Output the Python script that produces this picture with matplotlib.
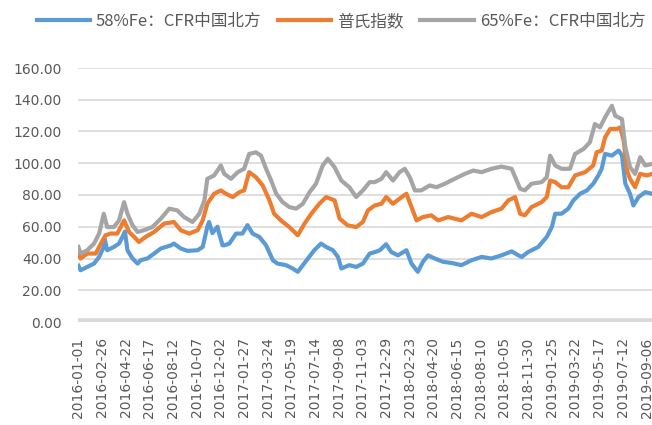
import pandas as pd
import matplotlib.pyplot as plt

plt.rcParams['font.family'] = ['Noto Sans CJK SC', 'DejaVu Sans']

# --- Data (day offset from 2016-01-01, price in USD/t) ---
start = pd.Timestamp("2016-01-01")

fe58_days = [0, 5, 21, 37, 49, 60, 62, 68, 84, 96, 106, 110, 116, 128, 140, 147, 163, 179, 195,
             219, 226, 242, 258, 282, 294, 305, 309, 317, 329, 333, 341, 345, 357, 373, 388, 400,
             412, 428, 444, 460, 471, 491, 507, 519, 531, 543, 558, 574, 586, 602, 614, 622, 641,
             657, 673, 689, 701, 713, 728, 740, 756, 776, 788, 803, 815, 827, 843, 863, 883, 906,
             930, 954, 977, 1001, 1025, 1041, 1049, 1064, 1088, 1108, 1120, 1128, 1143, 1159,
             1171, 1187, 1203, 1218, 1230, 1238, 1246, 1262, 1278, 1286, 1294, 1305, 1313, 1325,
             1341, 1357]
fe58_vals = [35.5, 32.6, 34.7, 36.8, 41.0, 47.3, 52.5, 45.2, 47.3, 49.4, 54.6, 57.0, 45.2, 40.0,
             36.8, 38.9, 40.0, 43.1, 46.3, 48.3, 49.4, 46.3, 44.8, 45.2, 47.3, 60.0, 63.0, 56.0,
             60.0, 55.7, 48.3, 48.3, 49.4, 55.7, 55.7, 61.0, 55.7, 53.6, 48.3, 38.9, 36.8, 35.8,
             33.7, 31.6, 35.8, 40.0, 45.2, 49.4, 47.3, 45.2, 41.0, 33.7, 35.8, 34.7, 36.8, 43.1,
             44.0, 45.2, 49.0, 44.1, 42.0, 45.2, 36.8, 31.6, 37.9, 42.0, 40.0, 37.9, 37.2, 35.8,
             38.9, 41.0, 40.0, 42.0, 44.5, 42.0, 41.0, 44.1, 47.3, 53.6, 59.8, 68.2, 68.2, 71.4,
             76.6, 80.8, 82.9, 87.1, 92.3, 96.5, 105.9, 104.8, 108.0, 104.8, 87.1, 80.8, 73.4,
             78.7, 81.8, 80.8]

platts_days = [0, 5, 21, 41, 53, 64, 76, 92, 108, 120, 132, 143, 159, 179, 203, 226, 242, 262,
               282, 294, 305, 321, 337, 349, 365, 381, 392, 404, 420, 436, 452, 463, 479, 499,
               519, 535, 551, 570, 586, 606, 618, 637, 657, 673, 685, 701, 717, 728, 744, 760,
               776, 788, 800, 815, 835, 851, 875, 906, 930, 954, 977, 1001, 1017, 1033, 1045,
               1056, 1072, 1096, 1108, 1116, 1128, 1143, 1159, 1175, 1199, 1218, 1226, 1238,
               1246, 1258, 1274, 1282, 1290, 1298, 1305, 1317, 1329, 1345, 1357]
platts_vals = [43.1, 40.0, 43.1, 43.1, 49.4, 54.6, 55.7, 55.7, 64.0, 56.7, 53.6, 50.4, 53.6,
               56.7, 62.0, 63.0, 57.8, 55.7, 57.8, 64.0, 74.5, 80.8, 82.9, 80.8, 78.7, 81.8,
               82.9, 94.4, 91.2, 86.0, 76.6, 68.2, 64.0, 59.8, 54.6, 62.0, 68.2, 74.5, 78.7,
               76.6, 65.1, 60.9, 59.8, 63.0, 70.3, 73.4, 74.5, 78.7, 74.5, 77.7, 80.8, 72.4,
               64.0, 66.1, 67.2, 64.0, 66.1, 64.0, 68.2, 66.1, 69.2, 71.4, 76.6, 78.7, 68.2,
               67.2, 72.4, 75.5, 78.7, 89.1, 88.1, 84.9, 84.9, 92.3, 94.4, 98.6, 106.9, 108.0,
               116.3, 121.6, 121.6, 122.6, 114.2, 95.4, 90.2, 84.9, 93.3, 92.3, 93.3]

fe65_days = [0, 5, 21, 37, 49, 60, 68, 84, 96, 108, 116, 128, 140, 155, 175, 195, 215, 234,
             250, 270, 286, 298, 305, 321, 337, 345, 361, 377, 392, 404, 420, 432, 444, 456,
             468, 483, 499, 515, 531, 547, 562, 578, 590, 606, 622, 641, 657, 673, 689, 701,
             717, 728, 744, 760, 772, 784, 796, 811, 831, 847, 867, 890, 914, 934, 954, 977,
             1001, 1025, 1045, 1056, 1072, 1096, 1108, 1116, 1128, 1143, 1163, 1175, 1195,
             1210, 1222, 1234, 1246, 1262, 1270, 1286, 1294, 1305, 1317, 1329, 1341, 1357]
fe65_vals = [47.3, 43.1, 45.2, 49.4, 55.7, 68.2, 59.8, 59.8, 64.0, 75.5, 68.2, 60.9, 56.7, 57.8,
             59.8, 65.1, 71.4, 70.3, 66.1, 63.0, 68.2, 76.6, 90.2, 92.3, 98.6, 93.3, 90.2, 94.4,
             96.5, 105.9, 106.9, 104.8, 96.5, 89.1, 80.8, 75.5, 72.4, 71.4, 74.5, 81.8, 87.1,
             98.6, 102.8, 97.5, 89.1, 84.9, 78.7, 82.9, 88.1, 88.1, 90.2, 94.4, 89.1, 94.4,
             96.5, 91.2, 82.9, 82.9, 86.0, 84.9, 87.1, 90.2, 93.3, 95.4, 94.4, 96.5, 97.9,
             96.5, 83.9, 82.9, 87.1, 88.1, 91.2, 104.8, 98.6, 96.5, 96.5, 105.9, 109.0, 113.2,
             124.7, 122.6, 128.9, 136.2, 129.9, 127.8, 110.0, 97.5, 93.3, 103.8, 98.6, 99.6]

series_names = ["58%Fe：CFR中国北方", "普氏指数", "65%Fe：CFR中国北方"]
series_colors = ["#5B9BD5", "#ED7D31", "#A5A5A5"]

tick_labels = ["2016-01-01", "2016-02-26", "2016-04-22", "2016-06-17", "2016-08-12",
               "2016-10-07", "2016-12-02", "2017-01-27", "2017-03-24", "2017-05-19",
               "2017-07-14", "2017-09-08", "2017-11-03", "2017-12-29", "2018-02-23",
               "2018-04-20", "2018-06-15", "2018-08-10", "2018-10-05", "2018-11-30",
               "2019-01-25", "2019-03-22", "2019-05-17", "2019-07-12", "2019-09-06"]
y_ticks = [0, 20, 40, 60, 80, 100, 120, 140, 160]


def to_dates(days):
    return start + pd.to_timedelta(days, unit="D")


fig = plt.figure(figsize=(6.52, 4.25), dpi=100)
ax = fig.add_axes([78 / 652, 103 / 425, 574 / 652, 254 / 425])

# grid + thick zero axis line
for v in y_ticks[1:]:
    ax.axhline(v, color="#D9D9D9", lw=1.2, zorder=0)
ax.axhline(0, color="#D9D9D9", lw=5.5, zorder=1)

data = [(fe58_days, fe58_vals), (platts_days, platts_vals), (fe65_days, fe65_vals)]
for (d, v), name, c in zip(data, series_names, series_colors):
    ax.plot(to_dates(d), v, color=c, lw=3.0, label=name, zorder=3, solid_joinstyle="round")

ax.set_ylim(0, 160)
ax.set_yticks(y_ticks)
ax.set_yticklabels([f"{v:.2f}" for v in y_ticks], family="DejaVu Sans")
ax.set_xlim(start - pd.Timedelta(days=1), start + pd.Timedelta(days=1357))
ax.set_xticks(pd.to_datetime(tick_labels))
ax.set_xticklabels(tick_labels, rotation=90, family="DejaVu Sans")
ax.tick_params(axis="both", length=0, colors="#595959", labelsize=10)
ax.tick_params(axis="y", pad=12)
ax.tick_params(axis="x", pad=11)
for s in ax.spines.values():
    s.set_visible(False)

fig.legend(loc="upper center", bbox_to_anchor=(0.523, 1.005), ncol=3, frameon=False,
           fontsize=12, handlelength=3.2, handletextpad=0.35, columnspacing=1.0,
           labelcolor="#595959")

fig.savefig("out.png", dpi=100)
